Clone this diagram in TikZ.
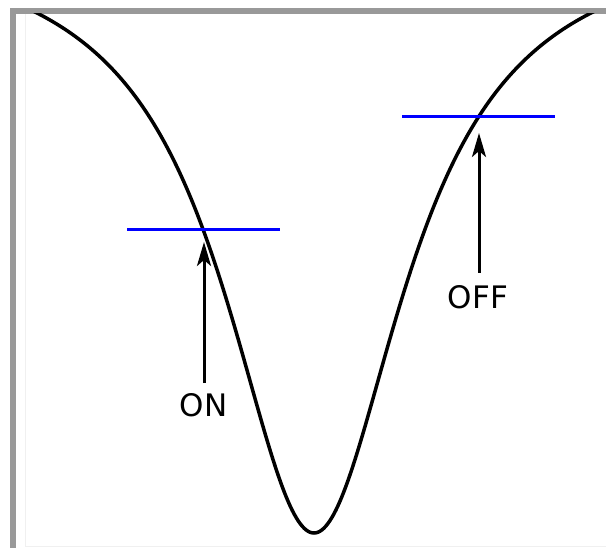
\documentclass[tikz,border=0pt]{standalone}
\usepackage{fontspec}
\setmainfont{DejaVu Sans}
\usetikzlibrary{arrows.meta}
\begin{document}
\begin{tikzpicture}[x=1pt,y=-1pt,
  frame/.style={fill=black!40,draw=none},
  curve/.style={line width=3.5pt,black},
  level/.style={line width=3pt,blue},
  pointer/.style={line width=3pt,-{Stealth[length=24pt,width=14pt,inset=6pt]}},
  lbl/.style={font=\fontsize{31}{37}\selectfont,inner sep=0pt}]
\useasboundingbox (0,0) rectangle (606,548);
\fill[white] (0,0) rectangle (606,548);
% frame
\fill[frame] (10,8) rectangle (606,14);
\fill[frame] (10,8) rectangle (16,548);
\draw[black!6,line width=1pt] (25,14) -- (25,546) -- (606,546);
% curve
\begin{scope}
\clip (16,14) rectangle (606,548);
\draw[curve] plot[domain=20:606,samples=300,smooth] (\x,{533-602*((\x-314)/100)^2/(((\x-314)/100)^2+1.21)});
\end{scope}
% levels
\draw[level] (127,230) -- (280,230);
\draw[level] (402,117) -- (555,117);
% labels
\node[lbl] (on) at (203.5,405) {ON};
\node[lbl] (off) at (478,297.5) {OFF};
\coordinate (ontip) at (204,242);
\coordinate (offtip) at (479,133);
\draw[pointer] (on.north -| ontip) ++(0,-10) -- (ontip);
\draw[pointer] (off.north -| offtip) ++(0,-13) -- (offtip);
\end{tikzpicture}
\end{document}
